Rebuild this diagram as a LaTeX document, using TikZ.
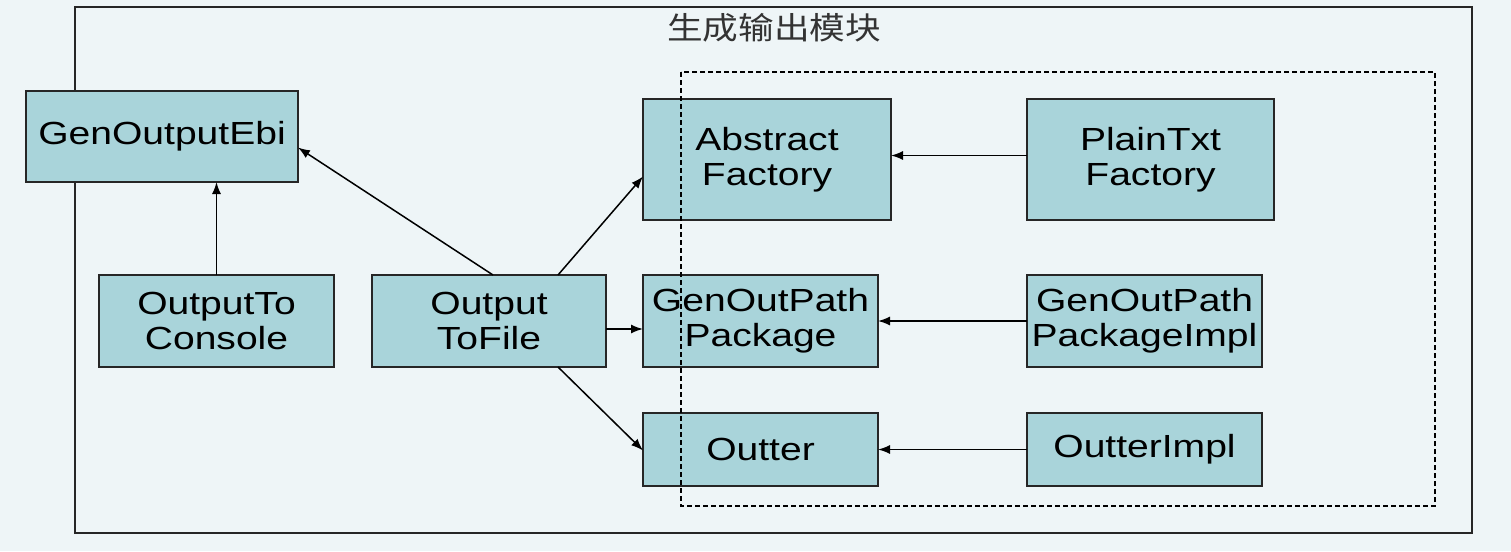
\documentclass[tikz,border=0pt]{standalone}
\usepackage{fontspec}
\setmainfont{Liberation Sans}[FakeStretch=1.22]
\newfontfamily\cjk{Noto Sans CJK SC}[FakeStretch=1.15]
\usepackage{xcolor}
\usetikzlibrary{arrows.meta}
\definecolor{bgcolor}{HTML}{EEF5F7}
\definecolor{boxfill}{HTML}{A9D4DA}
\begin{document}
\begin{tikzpicture}[x=1pt,y=-1pt]
    \tikzset{%
        class box/.style={draw=black!85,line width=1.4pt,fill=boxfill,
            inner sep=0pt,outer sep=0pt,align=center,
            font=\fontsize{32}{35}\selectfont},
        dep arrow/.style={line width=1.5pt,-{Latex[length=12pt,width=9pt]}}%
    }
    % 背景与边框
    \fill[bgcolor,use as bounding box] (0,0) rectangle (1511,551);
    \draw[line width=1.4pt,black!85] (75,7) rectangle (1472,533);
    \node[font=\cjk\fontsize{31}{31}\selectfont,text=black!80] (title) at (774,28) {生成输出模块};
    % 左侧
    \node[class box,minimum width=272pt,minimum height=91pt] (ebi) at (162,136.5) {\raisebox{-4pt}{GenOutputEbi}};
    \node[class box,minimum width=235pt,minimum height=92pt] (console) at (216.5,321) {\raisebox{-3pt}{OutputTo}\\\raisebox{-3pt}{Console}};
    \node[class box,minimum width=234pt,minimum height=92pt] (tofile) at (489,321) {\raisebox{-3pt}{Output}\\\raisebox{-3pt}{ToFile}};
    % 虚线框内
    \node[class box,minimum width=248pt,minimum height=121pt] (absfac) at (767,159.5) {\raisebox{-3pt}{Abstract}\\\raisebox{-3pt}{Factory}};
    \node[class box,minimum width=247pt,minimum height=121pt] (plainfac) at (1150.5,159.5) {\raisebox{-3pt}{PlainTxt}\\\raisebox{-3pt}{Factory}};
    \node[class box,minimum width=235pt,minimum height=92pt] (pathpkg) at (760.5,321) {\raisebox{-3pt}{GenOutPath}\\\raisebox{-3pt}{Package}};
    \node[class box,minimum width=235pt,minimum height=92pt] (pathimpl) at (1144.5,321) {\raisebox{-3pt}{GenOutPath}\\\raisebox{-3pt}{PackageImpl}};
    \node[class box,minimum width=235pt,minimum height=73pt] (outter) at (760.5,449.5) {\raisebox{-2pt}{Outter}};
    \node[class box,minimum width=235pt,minimum height=73pt] (outimpl) at (1144.5,449.5) {\raisebox{-2pt}{OutterImpl}};
    % 虚线框画在方框上面
    \draw[line width=1.1pt,dash pattern=on 5pt off 3pt] (681,72) rectangle (1435,506);
    % 依赖
    \draw[dep arrow] (console.north) to (ebi.south -| console.north);
    \draw[dep arrow] ([xshift=4pt]tofile.north) to ([yshift=-11pt]ebi.east);
    \draw[dep arrow] ([xshift=-48pt]tofile.north east) to ([yshift=-17pt]absfac.west);
    \draw[dep arrow] ([yshift=-8pt]tofile.east) to ([yshift=-8pt]pathpkg.west);
    \draw[dep arrow] ([xshift=-48pt]tofile.south east) to ([yshift=-1pt]outter.west);
    \draw[dep arrow] ([yshift=4pt]plainfac.west) to ([yshift=4pt]absfac.east);
    \draw[dep arrow] (pathimpl.west) to (pathpkg.east);
    \draw[dep arrow] (outimpl.west) to (outter.east);
\end{tikzpicture}
\end{document}
